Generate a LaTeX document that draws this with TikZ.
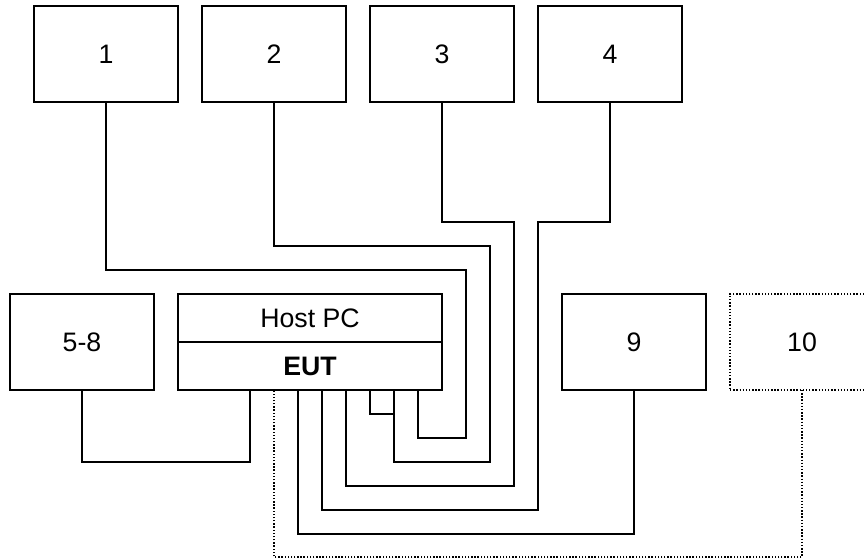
\documentclass[tikz,border=0pt]{standalone}
\usepackage{fontspec}
\setmainfont{Liberation Sans}
\usepackage{tikz}
\tikzset{
unit/.style={shape=rectangle, draw, line width=0.8pt, inner sep=0pt, outer sep=0pt,
  minimum width=2.88cm, minimum height=1.92cm, font=\fontsize{15.2}{18}\selectfont},
half/.style={unit, minimum width=5.28cm, minimum height=0.96cm},
optional/.style={unit, densely dotted},
wire/.style={line width=0.8pt},
optwire/.style={wire, densely dotted}}

\begin{document}
\begin{tikzpicture}[x=0.02cm, y=-0.02cm]
    \clip (0,0) rectangle (864,560);

                \node[unit] (D1) at (106,54) {1};
                \node[unit] (D2) at (274,54) {2};
                \node[unit] (D3) at (442,54) {3};
                \node[unit] (D4) at (610,54) {4};
                \node[unit] (D58) at (82,342) {5-8};
                \node[half] (Host) at (310,318) {Host PC};
                \node[half, font=\fontsize{15.2}{18}\selectfont\bfseries] (EUT) at (310,366) {EUT};
                \node[unit] (D9) at (634,342) {9};
                \node[optional] (D10) at (802,342) {10};

                \coordinate (p58) at (250,390);
                \coordinate (p10) at (274,390);
                \coordinate (p9) at (298,390);
                \coordinate (p4) at (322,390);
                \coordinate (p3) at (346,390);
                \coordinate (pL) at (370,390);
                \coordinate (p2) at (394,390);
                \coordinate (p1) at (418,390);

                \draw[wire] (D1.south) |- (466,270) -- (466,438) -| (p1);
                \draw[wire] (D2.south) |- (490,246) -- (490,462) -| (p2);
                \draw[wire] (D3.south) |- (514,222) -- (514,486) -| (p3);
                \draw[wire] (D4.south) |- (538,222) -- (538,510) -| (p4);
                \draw[wire] (pL) |- (394,414);
                \draw[wire] (D58.south) -- (82,462) -| (p58);
                \draw[wire] (D9.south) -- (634,534) -| (p9);
                \draw[optwire] (D10.south) -- (802,557) -| (p10);

            \end{tikzpicture}
\end{document}
